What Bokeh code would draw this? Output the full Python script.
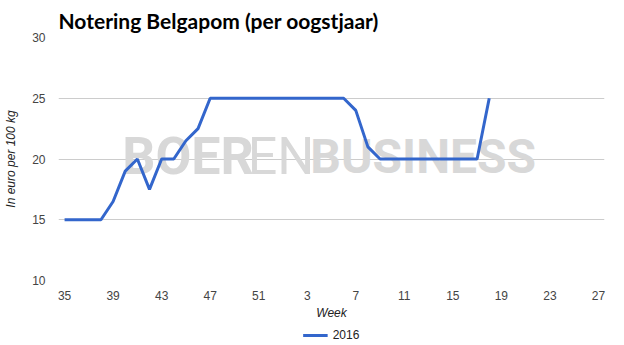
from bokeh.plotting import figure
from bokeh.layouts import column
from bokeh.models import Range1d, FixedTicker, Label, Legend, LegendItem, ColumnDataSource
from bokeh.embed import file_html
from bokeh.resources import INLINE

# ---- data ----
season_weeks = list(range(35, 53)) + list(range(1, 28))
weeks_2016 = list(range(35, 53)) + list(range(1, 19))
price_2016 = [15, 15, 15, 15, 16.5, 19, 20, 17.5, 20, 20, 21.5, 22.5,
              25, 25, 25, 25, 25, 25, 25, 25, 25, 25, 25, 25,
              24, 21, 20, 20, 20, 20, 20, 20, 20, 20, 20, 25]
y_ticks = [10, 15, 20, 25, 30]
x_tick_every = 4

title_text = "Notering Belgapom (per oogstjaar)"
y_label = "In euro per 100 kg"
x_label = "Week"
series_name = "2016"
line_color = "#3366cc"

# positions of each week on the season axis
pos = {w: i for i, w in enumerate(season_weeks)}
xs = [pos[w] for w in weeks_2016]
src = ColumnDataSource(dict(x=xs, y=price_2016))

TICK_FONT = "Liberation Sans"

p = figure(frame_width=546, frame_height=243, output_backend="svg", toolbar_location=None,
           x_range=Range1d(-0.5, len(season_weeks) - 0.5), y_range=Range1d(10, 30),
           min_border_left=58, min_border_right=20, min_border_top=36, min_border_bottom=44)
p.outline_line_color = None
p.background_fill_color = "white"
p.border_fill_color = "white"

# title
p.title.text = title_text
p.title.text_font = "Lato"
p.title.text_font_size = "21px"
p.title.text_font_style = "bold"
p.title.text_color = "#000000"
p.title.align = "left"

# watermark
wm_y = 20.2
for txt, x0, style, size in [("BOER", 4.75, "bold", "52px"), ("EN", 15.1, "normal", "52px"),
                             ("BUSINESS", 20.25, "bold", "48px")]:
    p.add_layout(Label(x=x0, y=wm_y, text=txt, text_font="Roboto",
                       text_font_size=size,
                       text_font_style=style, text_color="#d8d8d8",
                       text_baseline="alphabetic", level="underlay"))

r = p.line("x", "y", source=src, line_color=line_color, line_width=3)

# axes
xticks = list(range(0, len(season_weeks), x_tick_every))
p.xaxis.ticker = FixedTicker(ticks=xticks)
p.xaxis.major_label_overrides = {i: str(season_weeks[i]) for i in xticks}
p.yaxis.ticker = FixedTicker(ticks=y_ticks)
for ax in (p.xaxis, p.yaxis):
    ax.axis_line_color = None
    ax.major_tick_line_color = None
    ax.minor_tick_line_color = None
    ax.major_tick_out = 0
    ax.major_tick_in = 0
    ax.minor_tick_out = 0
    ax.minor_tick_in = 0
    ax.major_label_text_font = TICK_FONT
    ax.major_label_text_font_size = "12px"
    ax.major_label_text_color = "#444444"
    ax.axis_label_text_font = TICK_FONT
    ax.axis_label_text_font_size = "12px"
    ax.axis_label_text_font_style = "italic"
    ax.axis_label_text_color = "#222222"
p.xaxis.axis_label = x_label
p.yaxis.axis_label = y_label
p.yaxis.major_label_standoff = 13
p.yaxis.axis_label_standoff = 11
p.xaxis.major_label_standoff = 10
p.xaxis.axis_label_standoff = 3

p.xgrid.visible = False
p.ygrid.grid_line_color = "#cccccc"
p.ygrid.grid_line_width = 1

# legend strip below the chart (same series, drawn outside this strip's visible range)
lg = figure(frame_width=546, frame_height=22, output_backend="svg", toolbar_location=None,
            x_range=Range1d(-0.5, len(season_weeks) - 0.5), y_range=Range1d(100, 101),
            min_border_left=58, min_border_right=20, min_border_top=0, min_border_bottom=0)
lg.outline_line_color = None
lg.axis.visible = False
lg.grid.visible = False
lg.border_fill_color = "white"
lr = lg.line("x", "y", source=src, line_color=line_color, line_width=3)
legend = Legend(items=[LegendItem(label=series_name, renderers=[lr])],
                location="center", orientation="horizontal",
                glyph_width=25, glyph_height=14, label_height=14, label_standoff=5,
                padding=0, margin=0, spacing=0,
                border_line_color=None, background_fill_alpha=0,
                label_text_font=TICK_FONT, label_text_font_size="12px",
                label_text_color="#222222")
lg.add_layout(legend)

layout = column(p, lg, spacing=0)
open("out.html", "w").write(file_html(layout, INLINE))
